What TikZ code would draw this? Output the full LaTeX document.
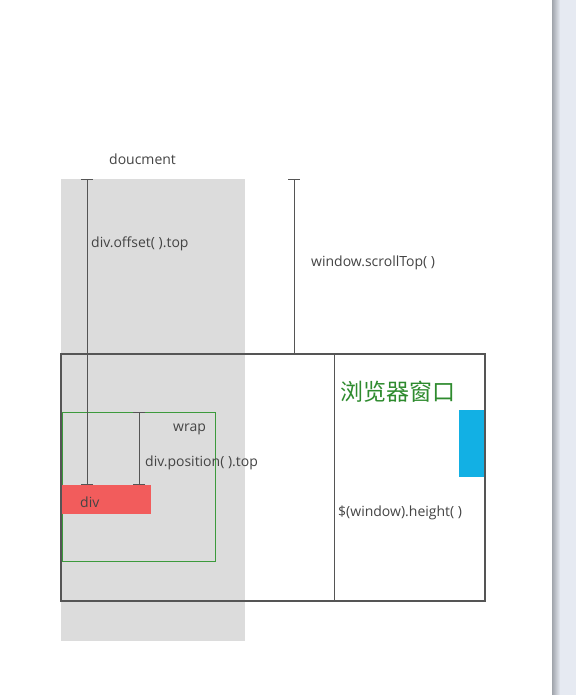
\documentclass[tikz,border=0pt]{standalone}
\usepackage{fontspec}
\setmainfont{Open Sans}
\newfontfamily\cjk{Noto Sans CJK SC}
\usetikzlibrary{arrows.meta,positioning}
\definecolor{docgray}{HTML}{DCDCDC}
\definecolor{wingray}{HTML}{555555}
\definecolor{linegray}{HTML}{555555}
\definecolor{txtgray}{HTML}{444444}
\definecolor{wrapgreen}{HTML}{3C9A3C}
\definecolor{wingreen}{HTML}{2E8B2E}
\definecolor{divred}{HTML}{F25C5C}
\definecolor{barblue}{HTML}{12B0E4}
\definecolor{stripedge}{HTML}{A0A4AB}
\definecolor{stripbg}{HTML}{E6EAF2}

\begin{document}
\begin{tikzpicture}[x=1pt,y=-1pt,
  box/.style={anchor=north west,inner sep=0pt,outer sep=0pt},
  dim/.style={draw=linegray,line width=1pt,{Bar[width=12pt]}-{Bar[width=12pt]}},
  lbl/.style={font=\fontsize{14}{16}\selectfont,text=txtgray,inner sep=0pt,anchor=west}]
\useasboundingbox (0,0) rectangle (576,695);
\fill[white] (0,0) rectangle (576,695);
% page edge on the right
\node[box,left color=stripedge,right color=stripbg,minimum width=8pt,minimum height=695pt] (edge) at (552,0) {};
\node[box,fill=stripbg,minimum width=16pt,minimum height=695pt] (strip) at (560,0) {};

% document, window and the boxes inside
\node[box,fill=docgray,minimum width=184pt,minimum height=462pt] (doc) at (61,179) {};
\node[box,fill=barblue,minimum width=26pt,minimum height=67pt] (bar) at (459,410) {};
\node[box,draw=wingray,line width=2pt,minimum width=424pt,minimum height=247pt] (win) at (61,354) {};
\node[box,draw=wrapgreen,line width=1pt,minimum width=153pt,minimum height=149pt] (wrap) at (62,412) {};
\node[box,fill=divred,minimum width=89pt,minimum height=29pt] (div) at (62,485) {};

% texts
\node[lbl] (doclbl) at (109,159) {doucment};
\node[lbl] (offlbl) at (91,244) {div.offset( ).top};
\node[lbl] (scrolllbl) at (311,263) {window.scrollTop( )};
\node[lbl] (heightlbl) at (338,513) {\$(window).height( )};
\node[lbl] (wraplbl) at (173,429) {wrap};
\node[lbl] (poslbl) at (145,463) {div.position( ).top};
\node[lbl] (divlbl) at (80,502) {div};
\node[lbl,text=wingreen,font=\cjk\fontsize{23}{27}\selectfont] (winlbl) at (340,392) {浏览器窗口};

% measuring lines
\coordinate (offx) at (87,0);
\coordinate (posx) at (139,0);
\coordinate (scrollx) at (294,0);
\coordinate (heightx) at (334,0);
\draw[dim] (doc.north -| offx) -- (div.north -| offx);
\draw[dim] (wrap.north -| posx) -- (div.north -| posx);
\draw[dim] (doc.north -| scrollx) -- (win.north -| scrollx);
\draw[dim] (win.north -| heightx) -- (win.south -| heightx);
\end{tikzpicture}
\end{document}
